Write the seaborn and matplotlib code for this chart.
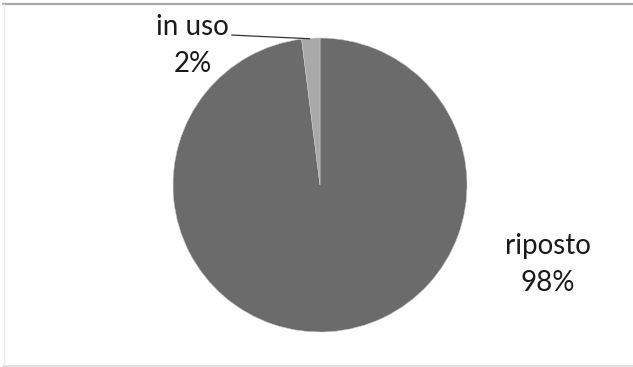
import matplotlib
matplotlib.use("Agg")
import matplotlib.pyplot as plt
import seaborn as sns
from matplotlib.lines import Line2D

sns.set_theme(style="white")
plt.rcParams["font.family"] = ["Lato", "DejaVu Sans"]

# Share of time: stored vs in use
categories = ["riposto", "in uso"]
values = [98, 2]
colors = ["#6b6b6b", "#a9a9a9"]

W, H = 633, 367
fig = plt.figure(figsize=(W / 100, H / 100), dpi=100)
fig.patch.set_facecolor("white")


def fig_line(x0, y0, x1, y1, color, lw):
    """Draw a line given in pixel coordinates measured from the top-left."""
    fig.lines.append(Line2D([x0 / W, x1 / W], [1 - y0 / H, 1 - y1 / H],
                            transform=fig.transFigure, color=color,
                            linewidth=lw))


# chart frame edges
fig_line(3, 4, W, 4, "#a8a8a8", 1.6)
fig_line(3.5, 4, 3.5, 366, "#ececec", 1.0)
fig_line(3, 366, W, 366, "#dcdcdc", 1.2)

cx, cy, r = 320, 185, 147
ax = fig.add_axes([(cx - r) / W, (H - cy - r) / H, 2 * r / W, 2 * r / H])
ax.pie(values, colors=colors, startangle=90, counterclock=False,
       radius=1.0, wedgeprops=dict(edgecolor="#c8c8c8", linewidth=0.4))
ax.set_xlim(-1, 1)
ax.set_ylim(-1, 1)
ax.set_aspect("equal")
ax.axis("off")

text_kw = dict(fontsize=20, color="#1a1a1a", ha="center", va="center",
               linespacing=1.5, clip_on=False)
ax.text(1.55, -0.54, f"{categories[0]}\n{values[0]}%", **text_kw)
ax.text(-0.865, 0.95, f"{categories[1]}\n{values[1]}%", **text_kw)

# leader line from the small-slice label to its wedge
ax.plot([-0.60, -0.07], [1.02, 0.995], color="#333333", linewidth=0.9,
        clip_on=False)

fig.savefig("out.png", dpi=100)
